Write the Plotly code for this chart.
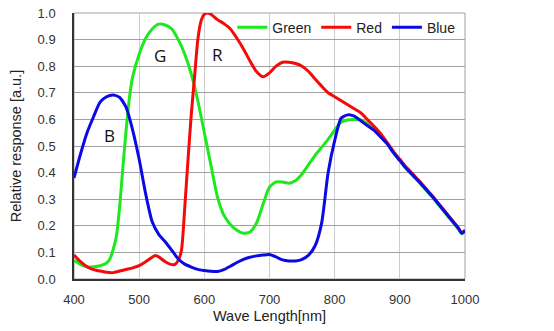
import plotly.graph_objects as go

blue_nm = [400, 410, 420, 430, 440, 450, 460, 470, 480, 490, 500, 510, 520, 530, 540, 550, 560, 570, 580, 590,
           600, 610, 620, 630, 640, 650, 660, 670, 680, 690, 700, 710, 720, 730, 740, 750, 760, 770, 780, 790,
           800, 810, 820, 830, 840, 850, 860, 870, 880, 890, 900, 910, 920, 930, 940, 950, 960, 970, 980, 990, 995, 1000]
blue_val = [0.38, 0.47, 0.55, 0.61, 0.665, 0.685, 0.692, 0.683, 0.645, 0.56, 0.45, 0.32, 0.215, 0.168, 0.14, 0.108, 0.075, 0.056, 0.045, 0.036,
            0.032, 0.029, 0.028, 0.035, 0.048, 0.062, 0.074, 0.082, 0.087, 0.090, 0.092, 0.083, 0.072, 0.068, 0.068, 0.074, 0.09, 0.125, 0.21, 0.40,
            0.52, 0.605, 0.617, 0.612, 0.595, 0.577, 0.56, 0.535, 0.51, 0.475, 0.445, 0.415, 0.39, 0.365, 0.337, 0.31, 0.28, 0.25, 0.22, 0.19, 0.172, 0.182]

green_nm = [400, 410, 420, 430, 440, 450, 455, 460, 465, 470, 475, 480, 485, 490, 500, 510, 520, 530, 540, 550,
            560, 570, 580, 590, 600, 610, 620, 630, 640, 650, 660, 670, 680, 690, 700, 710, 720, 730, 740, 750,
            760, 770, 780, 790, 800, 810, 820, 830, 840, 850, 860, 870, 880, 890, 900, 910, 920, 930, 940, 950, 960, 970, 980, 990, 995, 1000]
green_val = [0.07, 0.055, 0.046, 0.046, 0.05, 0.06, 0.075, 0.11, 0.16, 0.27, 0.42, 0.56, 0.68, 0.76, 0.845, 0.905, 0.94, 0.958, 0.955, 0.94,
             0.90, 0.845, 0.77, 0.67, 0.55, 0.43, 0.31, 0.24, 0.205, 0.183, 0.172, 0.177, 0.21, 0.28, 0.345, 0.365, 0.365, 0.36, 0.37, 0.395,
             0.43, 0.465, 0.495, 0.525, 0.56, 0.59, 0.598, 0.60, 0.598, 0.585, 0.565, 0.543, 0.512, 0.477, 0.446, 0.415, 0.388, 0.362, 0.335, 0.307, 0.277, 0.247, 0.217, 0.187, 0.17, 0.178]

red_nm = [400, 410, 420, 430, 440, 450, 460, 470, 480, 490, 500, 510, 520, 525, 530, 540, 550, 555, 560, 565,
          570, 575, 580, 585, 590, 595, 600, 605, 610, 620, 630, 640, 650, 660, 670, 680, 690, 700, 710, 720,
          730, 740, 750, 760, 770, 780, 790, 800, 810, 820, 830, 840, 850, 860, 870, 880, 890, 900, 910, 920,
          930, 940, 950, 960, 970, 980, 990, 995, 1000]
red_val = [0.09, 0.065, 0.046, 0.035, 0.03, 0.025, 0.024, 0.03, 0.036, 0.042, 0.05, 0.065, 0.082, 0.088, 0.083, 0.065, 0.054, 0.055, 0.07, 0.11,
           0.27, 0.45, 0.62, 0.76, 0.90, 0.97, 0.995, 1.0, 0.995, 0.975, 0.96, 0.94, 0.905, 0.865, 0.82, 0.78, 0.76, 0.775, 0.80, 0.815,
           0.815, 0.81, 0.80, 0.78, 0.752, 0.725, 0.70, 0.685, 0.67, 0.655, 0.64, 0.625, 0.60, 0.575, 0.548, 0.515, 0.48, 0.45, 0.42, 0.395,
           0.368, 0.34, 0.312, 0.282, 0.252, 0.222, 0.192, 0.174, 0.183]

labels = ["B", "G", "R"]
label_nm = [454, 532, 620]
label_val = [0.54, 0.84, 0.845]

fig = go.Figure()
fig.add_trace(go.Scatter(x=green_nm, y=green_val, mode="lines", name="Green",
                         line=dict(color="#1ee81e", width=3, shape="spline", smoothing=0.6)))
fig.add_trace(go.Scatter(x=red_nm, y=red_val, mode="lines", name="Red",
                         line=dict(color="#f50a0a", width=3, shape="spline", smoothing=0.6)))
fig.add_trace(go.Scatter(x=blue_nm, y=blue_val, mode="lines", name="Blue",
                         line=dict(color="#0a0ae6", width=3, shape="spline", smoothing=0.6)))

for t, xv, yv in zip(labels, label_nm, label_val):
    fig.add_annotation(x=xv, y=yv, text=t, showarrow=False,
                       font=dict(family="Open Sans, Liberation Sans, sans-serif", size=17, color="#111111"))

fig.add_shape(type="rect", xref="paper", yref="paper", x0=0, x1=1, y0=0, y1=1,
              line=dict(color="#a0a0a0", width=1), layer="below")

fig.update_layout(
    width=554, height=331,
    margin=dict(l=74, r=89, t=13, b=52),
    paper_bgcolor="white", plot_bgcolor="white",
    font=dict(family="Liberation Sans, Arial, sans-serif", color="#333333"),
    showlegend=True,
    legend=dict(orientation="h", x=0.988, xanchor="right", y=1.005, yanchor="top",
                bgcolor="rgba(0,0,0,0)", font=dict(size=14, color="#222222"),
                itemwidth=30, tracegroupgap=0),
    xaxis=dict(range=[400, 1000], dtick=100, tick0=400, showgrid=True, gridcolor="#cccccc", gridwidth=1,
               showline=True, linecolor="#333333", linewidth=1.5, zeroline=False, automargin=False,
               ticks="", ticklabelstandoff=8, tickfont=dict(size=13, color="#333333"),
               title=dict(text="Wave Length[nm]", font=dict(size=14.5, color="#222222"), standoff=5)),
    yaxis=dict(range=[0, 1.0], dtick=0.1, tick0=0, tickformat=".1f", showgrid=True, gridcolor="#a0a0a0", gridwidth=1,
               showline=True, linecolor="#333333", linewidth=1.5, zeroline=False, automargin=False,
               ticks="", ticklabelstandoff=14, tickfont=dict(size=13, color="#333333"),
               title=dict(text="Relative response [a.u.]", font=dict(size=14.5, color="#222222"), standoff=12)),
)

fig.write_html("out.html")
